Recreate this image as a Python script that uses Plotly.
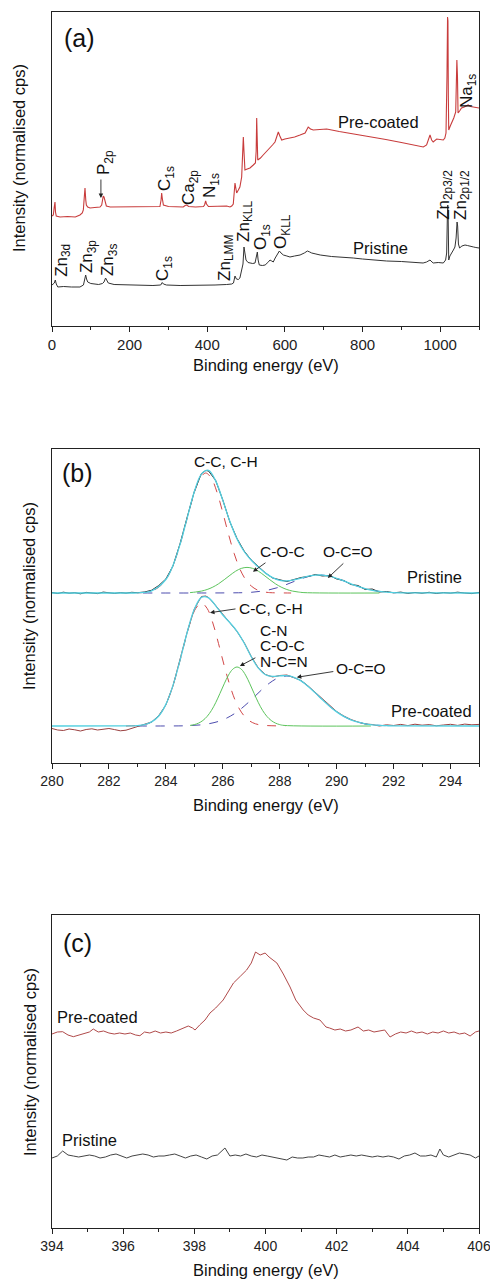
import plotly.graph_objects as go

W, H = 490, 1279
FONT = "Liberation Sans, Arial, sans-serif"

# ---------------- (a) survey spectra: (binding energy eV, intensity) ----------------
survey_pristine = [(0, 41), (3.4, 42), (6, 43), (8.5, 46), (11, 42), (15, 39), (30, 39.5), (50, 39), (72, 39),
    (81, 41), (84, 45), (86.7, 51), (89, 47), (92, 44), (100, 42.5), (106, 42), (120, 41.5), (130, 42.5),
    (134, 44), (138, 48), (141, 46), (145, 43), (160, 41.5), (200, 41), (227, 41), (260, 40.5), (280, 41),
    (284, 43.5), (287, 42), (295, 41), (330, 40.5), (380, 40.5), (420, 41), (450, 41.5), (463, 42),
    (467.5, 43), (471.4, 50), (475, 47), (480, 46.5), (484, 48), (488.6, 55), (492, 62), (494.6, 79),
    (497, 72), (499.8, 66), (505, 63.5), (510, 63), (517, 62.5), (523, 63), (526, 68), (529, 74), (531, 66),
    (534, 61), (542, 60.5), (549, 61), (556, 63.5), (561.6, 66), (566, 65), (570, 64), (575, 68),
    (578.8, 71), (585.7, 75), (590, 73), (596, 71), (605, 70), (613, 69), (625, 70), (639, 71), (650, 73),
    (658, 75), (664, 74), (669, 73), (680, 72), (691, 71), (720, 69.5), (750, 69), (776, 68), (800, 67),
    (830, 66), (862, 65), (900, 64.5), (930, 64), (956, 63), (965, 64), (973.8, 66), (979, 64), (982, 63),
    (995, 63.5), (1008, 63), (1014, 66), (1016.7, 73), (1018.5, 110), (1019.5, 121), (1020.5, 110),
    (1022, 66), (1025, 70), (1029.6, 74), (1034, 76), (1038, 79), (1041, 88), (1043.5, 104), (1045, 100),
    (1047, 82), (1050, 78), (1056, 80), (1064, 81), (1070, 80.5), (1080, 80), (1086, 79), (1092, 78.5),
    (1100, 78)]

survey_precoated = [(0, 110), (3.4, 111), (5.5, 118), (7.7, 124), (9, 114), (11, 110), (20.6, 109),
    (40, 109.5), (60, 109), (72, 111), (78, 113), (80.7, 116), (83, 128), (85, 138), (87, 126), (88.5, 121),
    (92, 119), (98, 118), (110, 118.5), (123.6, 119), (128, 121), (130.5, 127), (132, 130), (134, 129),
    (135.4, 126), (140, 120), (150, 119), (183.7, 119), (220, 119.5), (252, 119), (270, 119), (278, 119.5),
    (281, 126), (282.5, 133), (284, 128), (287, 121), (300, 119.5), (320, 119), (338, 119), (343, 120.5),
    (347, 121), (352, 119.5), (370, 119), (390, 119.5), (393, 121), (395.8, 125), (398, 122), (403, 119.5),
    (430, 120), (450, 120), (458.5, 119), (463, 120), (467, 122), (469.5, 134), (471.4, 143), (473.5, 138),
    (475.7, 133), (480, 136), (484, 139), (488.6, 149), (491, 165), (492.9, 189), (494.5, 175), (497, 156),
    (503, 157), (510, 158), (518.6, 161), (524, 163), (526, 175), (527.3, 208), (528.5, 190), (530, 166),
    (537, 168), (544, 171), (552, 174), (561.6, 178), (568, 181), (574.5, 184), (579, 189), (583, 194),
    (587, 190), (591.7, 186), (600, 187), (613, 188), (625, 189), (639, 191), (652, 193), (656, 196),
    (660, 199), (666, 197), (673, 196), (690, 196.5), (707.6, 197), (740, 194.5), (780, 192), (820, 189),
    (860, 186.5), (900, 183.5), (930, 181.5), (956.5, 179), (965, 181), (970, 186), (973.8, 191), (978, 186),
    (982, 184), (991, 187), (1000, 186.5), (1008, 186), (1012, 188), (1015, 193), (1017.5, 250), (1019, 309),
    (1020, 305), (1021, 230), (1022, 196), (1026, 200), (1030, 203), (1035, 208), (1040, 214), (1041.5, 240),
    (1043, 266), (1044.5, 250), (1046, 213), (1050, 215), (1055, 218), (1062, 219), (1068, 220), (1072, 221),
    (1078, 219.5), (1085, 219), (1092, 218.5), (1100, 218)]

# ---------------- (b) C 1s high resolution ----------------
c1s_pristine_raw = [(280.0, 170.5), (280.2, 169.5), (280.4, 170.8), (280.6, 169.8), (280.8, 170.3), (281.0, 169.2),
    (281.2, 170.6), (281.4, 170.0), (281.6, 169.4), (281.8, 170.9), (282.0, 170.2), (282.2, 169.6), (282.4, 170.4),
    (282.6, 169.9), (282.8, 170.7), (283.0, 170.3), (283.25, 171.0), (283.5, 172.8), (283.75, 177.5), (284.0, 184.0),
    (284.25, 197.0), (284.5, 219.5), (284.75, 246.0), (285.0, 271.5), (285.25, 289.5), (285.4, 292.5), (285.5, 292.0),
    (285.75, 282.5), (286.0, 263.0), (286.25, 241.0), (286.5, 224.5), (286.75, 212.0), (287.0, 203.0), (287.25, 196.5),
    (287.5, 190.0), (287.75, 185.0), (288.0, 183.0), (288.25, 181.5), (288.5, 183.5), (288.75, 185.5), (289.0, 186.5),
    (289.25, 188.5), (289.5, 187.0), (289.75, 187.5), (290.0, 184.0), (290.25, 182.5), (290.5, 178.5), (290.75, 177.5),
    (291.0, 173.5), (291.25, 174.0), (291.5, 171.0), (291.75, 171.5), (292.0, 170.2), (292.25, 170.9), (292.5, 169.6),
    (292.75, 170.5), (293.0, 169.8), (293.25, 170.7), (293.5, 169.5), (293.75, 170.4), (294.0, 169.9), (294.25, 170.8),
    (294.5, 170.0), (294.75, 169.4), (295.0, 170.6)]
c1s_pristine_envelope = [(280.0, 170), (282.5, 170), (283.0, 170.2), (283.5, 172.2), (284.0, 183.5), (284.25, 197.6),
    (284.5, 218.8), (284.75, 245.2), (285.0, 271.2), (285.25, 288.9), (285.5, 292.7), (285.75, 282.1), (286.0, 262.6),
    (286.25, 241.5), (286.5, 224.0), (286.75, 211.5), (287.0, 202.7), (287.25, 195.9), (287.5, 189.9), (287.75, 185.4),
    (288.0, 182.7), (288.25, 182.1), (288.5, 183.1), (288.75, 184.9), (289.0, 186.8), (289.25, 187.8), (289.5, 187.9),
    (289.75, 186.8), (290.0, 184.7), (290.25, 182.1), (290.5, 179.2), (290.75, 176.6), (291.0, 174.4), (291.25, 172.7),
    (291.5, 171.6), (291.75, 170.8), (292.0, 170.4), (292.5, 170.1), (295.0, 170)]
c1s_pristine_cc = [(283.0, 170.2), (283.2, 170.5), (283.4, 171.4), (283.6, 173.2), (283.8, 177.0), (284.0, 183.5),
    (284.2, 194.0), (284.4, 209.4), (284.6, 228.8), (284.8, 250.4), (285.0, 270.4), (285.2, 284.7), (285.4, 290.0),
    (285.6, 284.7), (285.8, 270.4), (286.0, 250.4), (286.2, 228.8), (286.4, 209.4), (286.6, 194.0), (286.8, 183.5),
    (287.0, 177.0), (287.2, 173.2), (287.4, 171.4), (287.6, 170.5), (287.8, 170.2), (288.4, 170)]
c1s_pristine_coc = [(284.85, 170.4), (285.05, 171.0), (285.25, 171.9), (285.45, 173.5), (285.65, 175.9), (285.85, 179.2),
    (286.05, 183.3), (286.25, 187.7), (286.45, 191.8), (286.65, 194.6), (286.85, 195.6), (287.05, 194.6), (287.25, 191.8),
    (287.45, 187.7), (287.65, 183.3), (287.85, 179.2), (288.05, 175.9), (288.25, 173.5), (288.45, 171.9), (288.65, 171.0),
    (288.85, 170.4), (291.5, 170)]
c1s_pristine_oco = [(283.2, 170), (286.7, 170.3), (287.0, 170.7), (287.3, 171.6), (287.6, 173.0), (287.9, 175.2),
    (288.2, 178.1), (288.5, 181.5), (288.8, 184.7), (289.1, 187.1), (289.4, 188.0), (289.7, 187.1), (290.0, 184.7),
    (290.3, 181.5), (290.6, 178.1), (290.9, 175.2), (291.2, 173.0), (291.5, 171.6), (291.8, 170.7), (292.1, 170.3)]

c1s_precoated_raw = [(280.0, 34.5), (280.2, 33.0), (280.4, 32.5), (280.6, 34.0), (280.8, 33.2), (281.0, 32.0),
    (281.2, 33.5), (281.4, 34.2), (281.6, 33.0), (281.8, 33.8), (282.0, 34.5), (282.2, 33.4), (282.4, 32.2),
    (282.6, 32.8), (282.8, 34.6), (283.0, 36.0), (283.25, 38.0), (283.5, 41.0), (283.75, 47.5), (284.0, 58.0),
    (284.25, 77.0), (284.5, 103.5), (284.75, 131.0), (285.0, 154.0), (285.25, 166.5), (285.4, 167.0), (285.5, 165.5),
    (285.75, 157.5), (286.0, 148.5), (286.25, 140.0), (286.5, 131.5), (286.75, 120.5), (287.0, 106.5), (287.25, 95.0),
    (287.5, 88.5), (287.75, 86.0), (288.0, 87.5), (288.25, 88.0), (288.5, 85.5), (288.75, 82.5), (289.0, 77.0),
    (289.25, 70.5), (289.5, 63.5), (289.75, 57.5), (290.0, 51.5), (290.25, 47.0), (290.5, 43.5), (290.75, 41.0),
    (291.0, 39.0), (291.25, 38.5), (291.5, 37.0), (291.75, 38.2), (292.0, 37.5), (292.25, 38.6), (292.5, 37.4),
    (292.75, 38.8), (293.0, 37.8), (293.25, 38.4), (293.5, 37.2), (293.75, 38.0), (294.0, 38.7), (294.25, 37.6),
    (294.5, 38.9), (294.75, 38.2), (295.0, 38.6)]
c1s_precoated_envelope = [(280.0, 37), (282.5, 37.1), (283.0, 37.4), (283.25, 38.4), (283.5, 41.1), (283.75, 47.0),
    (284.0, 58.6), (284.25, 77.6), (284.5, 103.0), (284.75, 130.8), (285.0, 153.7), (285.25, 165.7), (285.5, 165.2),
    (285.75, 157.2), (286.0, 148.0), (286.25, 140.3), (286.5, 131.7), (286.75, 120.0), (287.0, 106.3), (287.25, 94.8),
    (287.5, 88.3), (287.75, 86.6), (288.0, 87.1), (288.25, 87.4), (288.5, 85.7), (288.75, 82.1), (289.0, 76.6),
    (289.25, 70.1), (289.5, 63.2), (289.75, 56.8), (290.0, 51.1), (290.25, 46.6), (290.5, 43.2), (290.75, 40.8),
    (291.0, 39.2), (291.25, 38.2), (291.5, 37.6), (291.75, 37.3), (292.0, 37.1), (295.0, 37)]
c1s_precoated_cc = [(282.6, 37), (283.05, 37.6), (283.25, 38.4), (283.45, 40.3), (283.65, 44.1), (283.85, 50.9),
    (284.05, 61.6), (284.25, 77.5), (284.45, 97.3), (284.65, 119.4), (284.85, 140.0), (285.05, 154.6), (285.25, 160.0),
    (285.45, 154.6), (285.65, 140.0), (285.85, 119.4), (286.05, 97.3), (286.25, 77.5), (286.45, 61.6), (286.65, 50.9),
    (286.85, 44.1), (287.05, 40.3), (287.25, 38.4), (287.45, 37.6), (288.2, 37)]
c1s_precoated_cn = [(284.85, 37.6), (285.0, 38.4), (285.15, 39.9), (285.3, 42.5), (285.45, 46.6), (285.6, 52.5),
    (285.75, 60.3), (285.9, 69.6), (286.05, 79.2), (286.2, 87.9), (286.35, 93.8), (286.5, 96.0), (286.65, 93.8),
    (286.8, 87.9), (286.95, 79.2), (287.1, 69.6), (287.25, 60.3), (287.4, 52.5), (287.55, 46.6), (287.7, 42.5),
    (287.85, 39.9), (288.0, 38.4), (288.15, 37.6), (291.2, 37)]
c1s_precoated_oco = [(283.0, 37), (284.65, 37.2), (284.95, 37.6), (285.25, 38.2), (285.55, 39.5), (285.85, 41.6),
    (286.15, 45.1), (286.45, 50.1), (286.75, 56.8), (287.05, 64.6), (287.35, 72.8), (287.65, 80.1), (287.95, 85.2),
    (288.25, 87.0), (288.55, 85.2), (288.85, 80.1), (289.15, 72.8), (289.45, 64.6), (289.75, 56.8), (290.05, 50.1),
    (290.35, 45.1), (290.65, 41.6), (290.95, 39.5), (291.25, 38.2), (291.55, 37.6), (291.85, 37.2)]

# ---------------- (c) N 1s high resolution ----------------
n1s_precoated = [(394.0, 194), (394.15, 196), (394.3, 196.3), (394.45, 193), (394.6, 191.3), (394.75, 193),
    (394.9, 195), (395.05, 196), (395.16, 199), (395.3, 196), (395.45, 197), (395.6, 195), (395.75, 194), (395.9, 195),
    (396.05, 194), (396.2, 195), (396.35, 193), (396.47, 192.3), (396.6, 196), (396.75, 195), (396.9, 197),
    (397.05, 195), (397.2, 196), (397.35, 195), (397.5, 197), (397.65, 199), (397.83, 202), (397.95, 200),
    (398.02, 198), (398.15, 203), (398.3, 208), (398.44, 215), (398.6, 220), (398.81, 228), (398.95, 236),
    (399.1, 245), (399.3, 252), (399.47, 258), (399.6, 265), (399.72, 276), (399.85, 273), (399.99, 275),
    (400.1, 271), (400.32, 265), (400.5, 254), (400.69, 241), (400.85, 228), (401.06, 218), (401.2, 213),
    (401.35, 210), (401.53, 208), (401.7, 201), (401.8, 200), (401.95, 198), (402.1, 199), (402.25, 197),
    (402.4, 198), (402.6, 201), (402.75, 197), (402.9, 198), (403.05, 196), (403.2, 197), (403.35, 198),
    (403.5, 191), (403.65, 194), (403.8, 196), (403.95, 195), (404.1, 197), (404.25, 195), (404.4, 196),
    (404.55, 194), (404.7, 196), (404.85, 195), (405.0, 197), (405.15, 195), (405.3, 196), (405.45, 194),
    (405.6, 195), (405.75, 192), (405.9, 196), (406.0, 197)]
n1s_pristine = [(394.0, 70), (394.15, 72), (394.3, 77), (394.45, 73), (394.6, 72), (394.75, 71), (394.9, 72),
    (395.05, 73), (395.2, 72), (395.35, 70), (395.5, 71), (395.65, 73), (395.8, 74), (395.95, 72), (396.1, 70),
    (396.25, 72), (396.4, 73), (396.55, 74), (396.7, 73), (396.85, 71), (397.0, 72), (397.15, 72), (397.3, 73),
    (397.45, 74), (397.6, 72), (397.75, 70), (397.9, 72), (398.05, 73), (398.2, 71), (398.35, 69), (398.5, 72),
    (398.65, 73), (398.86, 80), (399.0, 72), (399.15, 73), (399.3, 72), (399.45, 74), (399.6, 72), (399.75, 71),
    (399.9, 73), (400.05, 72), (400.2, 71), (400.35, 70), (400.5, 69), (400.6, 68), (400.75, 71), (400.9, 70),
    (401.05, 70), (401.2, 71), (401.35, 71), (401.5, 73), (401.65, 72), (401.8, 71), (401.95, 73), (402.1, 71),
    (402.25, 72), (402.4, 73), (402.55, 72), (402.7, 73), (402.85, 72), (403.0, 71), (403.15, 72), (403.3, 71),
    (403.45, 72), (403.6, 71), (403.75, 69), (403.9, 72), (404.05, 73), (404.2, 75), (404.35, 72), (404.5, 72),
    (404.65, 73), (404.8, 71), (404.9, 79), (405.0, 73), (405.15, 71), (405.3, 73), (405.45, 75), (405.6, 74),
    (405.75, 73), (405.9, 70), (406.0, 72)]

# ---------------- figure ----------------
def xs(p): return [a for a, _ in p]
def ys(p): return [b for _, b in p]

fig = go.Figure()

def line(p, color, ax, width=1.0, dash="solid", shape="linear"):
    fig.add_trace(go.Scatter(x=xs(p), y=ys(p), mode="lines", xaxis=ax[0], yaxis=ax[1],
                             line=dict(color=color, width=width, dash=dash, shape=shape),
                             showlegend=False, hoverinfo="skip"))

RED = "#c83c3c"
BLK = "#333333"
line(survey_precoated, RED, ("x", "y"), 1.1)
line(survey_pristine, BLK, ("x", "y"), 1.0)

CYAN = "#52cfe0"
CC_RED = "#d24848"
GREEN = "#5cc45c"
BLUE = "#4c4cae"
for comp, col, d in [(c1s_pristine_oco, BLUE, "dash"), (c1s_pristine_cc, CC_RED, "dash"), (c1s_pristine_coc, GREEN, "solid"),
                     (c1s_precoated_oco, BLUE, "dash"), (c1s_precoated_cc, CC_RED, "dash"), (c1s_precoated_cn, GREEN, "solid")]:
    line(comp, col, ("x2", "y2"), 1.0, d, "spline")
line(c1s_pristine_raw, "#2b2b2b", ("x2", "y2"), 1.0)
line(c1s_precoated_raw, "#9a4040", ("x2", "y2"), 1.0)
line(c1s_pristine_envelope, CYAN, ("x2", "y2"), 1.3, "solid", "spline")
line(c1s_precoated_envelope, CYAN, ("x2", "y2"), 1.3, "solid", "spline")

line(n1s_precoated, "#b04a4a", ("x3", "y3"), 1.0)
line(n1s_pristine, "#444444", ("x3", "y3"), 1.0)

XD = [52 / W, 479 / W]
def ydom(top, bot): return [1 - bot / H, 1 - top / H]

def xax(rng, dtick, minor, anchor, fsize=14):
    return dict(domain=XD, range=rng, dtick=dtick, tick0=rng[0], anchor=anchor, showgrid=False, zeroline=False,
                automargin=False, ticklabeloverflow="allow", showline=True, mirror=True, linecolor="#222",
                linewidth=1.2, ticks="outside", ticklen=5, tickwidth=1, tickcolor="#222",
                tickfont=dict(family=FONT, size=fsize, color="#222"),
                minor=dict(dtick=minor, ticks="outside", ticklen=3, tickcolor="#222", tickwidth=1, showgrid=False))

def yax(rng, dom, anchor):
    return dict(domain=dom, range=rng, anchor=anchor, showgrid=False, zeroline=False, showticklabels=False,
                automargin=False, ticks="", showline=True, mirror=True, linecolor="#222", linewidth=1.2)

fig.update_layout(
    width=W, height=H, margin=dict(l=0, r=0, t=0, b=0, autoexpand=False),
    paper_bgcolor="white", plot_bgcolor="white",
    xaxis=xax([0, 1100], 200, 100, "y", 15),
    yaxis=yax([0, 314], ydom(12, 326), "x"),
    xaxis2=xax([280, 295], 2, 1, "y2"),
    yaxis2=yax([0, 314], ydom(449, 763), "x2"),
    xaxis3=xax([394, 406], 2, 1, "y3"),
    yaxis3=yax([0, 313], ydom(915, 1228), "x3"),
)

ann = []
def text(x, y, t, ref, size=16.5, angle=0, xanchor="center"):
    ann.append(dict(x=x, y=y, xref=ref[0], yref=ref[1], text=t, showarrow=False, textangle=angle,
                    xanchor=xanchor, yanchor="middle", font=dict(family=FONT, size=size, color="#111")))

def arrow(x, y, dx, dy, ref):
    ann.append(dict(x=x, y=y, xref=ref[0], yref=ref[1], text="", showarrow=True, ax=dx, ay=dy,
                    arrowhead=2, arrowsize=1, arrowwidth=0.9, arrowcolor="#222"))

A, B, C = ("x", "y"), ("x2", "y2"), ("x3", "y3")
# panel (a)
text(72, 288, "(a)", A, 25)
text(840, 204, "Pre-coated", A)
text(847.5, 78, "Pristine", A)
for ev, v, t in [(28, 66, "Zn<sub>3d</sub>"), (93, 69, "Zn<sub>3p</sub>"), (147, 66, "Zn<sub>3s</sub>"),
                 (288.5, 58, "C<sub>1s</sub>"), (448, 68, "Zn<sub>LMM</sub>"), (497, 105, "Zn<sub>KLL</sub>"),
                 (541, 89, "O<sub>1s</sub>"), (592.5, 94, "O<sub>KLL</sub>"), (1012, 131, "Zn<sub>2p3/2</sub>"),
                 (1056, 131, "Zn<sub>2p1/2</sub>"), (136.5, 164, "P<sub>2p</sub>"), (293.7, 147, "C<sub>1s</sub>"),
                 (355.5, 138, "Ca<sub>2p</sub>"), (409.6, 140, "N<sub>1s</sub>"), (1071.6, 235, "Na<sub>1s</sub>")]:
    text(ev, v, t, A, 17, -90)
arrow(126, 128, 0, -20, A)

# panel (b)
text(280.9, 290, "(b)", B, 25)
text(286.11, 301.3, "C-C, C-H", B, 15.5)
text(288.08, 211.3, "C-O-C", B, 15.5)
text(290.4, 211.3, "O-C=O", B, 15.5)
text(293.45, 186.3, "Pristine", B)
text(287.71, 155, "C-C, C-H", B, 15.5)
text(287.24, 133, "C-N", B, 15.5, 0, "left")
text(287.24, 118, "C-O-C", B, 15.5, 0, "left")
text(287.24, 102, "N-C=N", B, 15.5, 0, "left")
text(290.85, 95, "O-C=O", B, 15.5)
text(293.33, 52.3, "Pre-coated", B)
arrow(287.06, 191.3, 14, -10, B)
arrow(289.69, 185, 17, -16, B)
arrow(285.55, 150.3, 27, -4, B)
arrow(286.6, 97, 17, -9, B)
arrow(288.6, 85.7, 38, -6, B)

# panel (c)
text(394.72, 285, "(c)", C, 25)
text(395.28, 211.3, "Pre-coated", C)
text(395.05, 88, "Pristine", C)

# axis titles
P = ("paper", "paper")
for ypx in (365, 805, 1270):
    text(265.5 / W, 1 - ypx / H, "Binding energy (eV)", P, 16.5)
for xpx, ypx in ((19, 158), (29, 596), (30, 1062)):
    text(xpx / W, 1 - ypx / H, "Intensity (normalised cps)", P, 16.5, -90)

fig.update_layout(annotations=ann)
fig.write_html("out.html")
